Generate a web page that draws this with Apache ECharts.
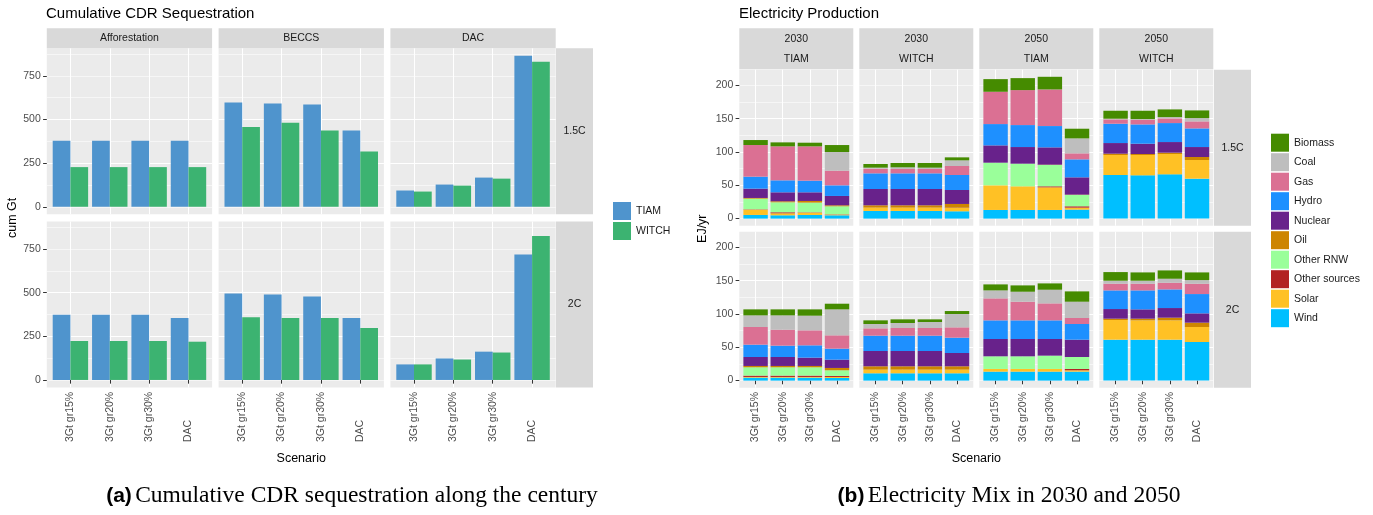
<!DOCTYPE html>
<html><head><meta charset="utf-8">
<script src="https://cdn.jsdelivr.net/npm/echarts@6/dist/echarts.min.js"></script>
<style>html,body{margin:0;padding:0;background:#fff}#c{width:1373px;height:515px}</style>
</head><body><div id="c"></div>
<script>
// ================= DATA =================
const scenarios = ['3Gt gr15%', '3Gt gr20%', '3Gt gr30%', 'DAC'];
const cdrTechs = ['Afforestation', 'BECCS', 'DAC'];
const targets = ['1.5C', '2C'];
const models = ['TIAM', 'WITCH'];

// (a) Cumulative CDR (Gt): rows = [Afforestation, BECCS, DAC], cols = scenarios
const tiam_15C  = [[378, 378, 378, 378], [597, 591, 585, 436], [93, 127, 167, 864]];
const witch_15C = [[227, 227, 227, 227], [456, 481, 437, 316], [87, 121, 161, 830]];
const tiam_2C   = [[374, 374, 374, 355], [495, 489, 478, 355], [89, 123, 162, 718]];
const witch_2C  = [[223, 223, 223, 219], [359, 355, 355, 297], [89, 117, 157, 824]];

// (b) Electricity production (EJ/yr)
const mixYears  = ['2030', '2030', '2050', '2050'];
const mixModels = ['TIAM', 'WITCH', 'TIAM', 'WITCH'];
const sources = ['Biomass', 'Coal', 'Gas', 'Hydro', 'Nuclear', 'Oil', 'Other RNW', 'Other sources', 'Solar', 'Wind'];
// each array: [2030 TIAM x4 scen, 2030 WITCH x4, 2050 TIAM x4, 2050 WITCH x4]
const wind_15C     = [5.5, 5, 5.5, 5,   11.5, 11.5, 11.5, 11,  13, 13, 13, 13.5,   65.5, 65, 66.5, 60];
const solar_15C    = [8, 3, 3.5, 1,     5, 5, 5, 5,            37, 35.5, 34, 3,    30, 30.5, 30.5, 28];
const otherSrc_15C = [0.5, 1.5, 0.5, 0.5, 0, 0, 0, 0.5,        0, 0, 1.5, 2,       0, 0, 0, 0];
const otherRnw_15C = [16, 15, 14.5, 12, 0, 0, 0, 0,            34, 34, 32, 17,     0, 0, 0, 0];
const oil_15C      = [1, 1.5, 2.5, 1.5, 3.5, 3.5, 3.5, 5.5,    0, 0, 0.5, 0.5,     2, 1.5, 2, 4.5];
const nuclear_15C  = [14, 13.5, 13, 14, 24.5, 24.5, 24.5, 21,  26, 25, 26, 26,     16, 15.5, 16, 15];
const hydro_15C    = [18, 18, 17.5, 16, 23.5, 23.5, 23.5, 22.5, 32, 33, 32, 27,    29, 29, 28.5, 28];
const gas_15C      = [47.5, 51, 51.5, 22, 7, 6.5, 6.5, 13.5,   48.5, 52.5, 55, 9,  6.5, 7, 7, 10.5];
const coal_15C     = [0, 0, 0, 28,      1.5, 2.5, 2, 8.5,      0, 0, 0, 22.5,      1, 1, 2, 5];
const biomass_15C  = [7.5, 6, 5.5, 10.5, 5.5, 6.5, 7, 4.5,     19, 18, 19, 14.5,   12, 12.5, 11.5, 11.5];

const wind_2C      = [4.5, 4.5, 4.5, 4, 11, 11, 11, 11,        13.5, 13.5, 13.5, 13.5, 61.5, 61.5, 61.5, 58];
const solar_2C     = [1, 1, 1, 1.5,     5.5, 5.5, 5.5, 5.5,    4, 4, 4, 2,         29.5, 29, 29, 22.5];
const otherSrc_2C  = [2, 2, 2, 1.5,     0, 0, 0, 0,            0, 0, 0, 2,         0, 0, 0, 0];
const otherRnw_2C  = [12.5, 12.5, 12.5, 8.5, 0, 0, 0, 0,       19, 19, 20, 18,     0, 0, 0, 0];
const oil_2C       = [2, 2, 2, 3.5,     5, 5, 5, 5,            0, 0, 0, 0,         2, 2.5, 4, 6.5];
const nuclear_2C   = [13.5, 13.5, 12.5, 12.5, 23, 23, 23, 20,  26, 26, 25, 26,     14.5, 14, 14.5, 14];
const hydro_2C     = [18.5, 17, 18.5, 16.5, 23, 23, 23, 23,    28, 28, 28, 23.5,   28, 28.5, 28, 29];
const gas_2C       = [26.5, 24, 22.5, 20, 11, 11.5, 11.5, 15.5, 33, 28, 25.5, 9,   10, 10, 10, 15.5];
const coal_2C      = [17.5, 21.5, 22, 39, 6.5, 7.5, 9, 20,     12, 15, 20.5, 24.5, 4.5, 4.5, 6, 5.5];
const biomass_2C   = [9, 9, 9.5, 8.5,   5.5, 5.5, 4, 4.5,      9, 9.5, 9.5, 15.5,  13, 12.5, 12.5, 11.5];

// ================= STYLE =================
const FONT = "'Liberation Sans', Arial, sans-serif";
const SERIF = "'Liberation Serif', 'Times New Roman', serif";
const modelColors = { TIAM: '#4F94CD', WITCH: '#3CB371' };
const sourceColors = {
  'Biomass': '#458B00', 'Coal': '#BEBEBE', 'Gas': '#DB7093', 'Hydro': '#1E90FF', 'Nuclear': '#68228B',
  'Oil': '#CD8500', 'Other RNW': '#9AFF9A', 'Other sources': '#B22222', 'Solar': '#FFC125', 'Wind': '#00BFFF'
};

const cdrData = [
  { TIAM: tiam_15C, WITCH: witch_15C },
  { TIAM: tiam_2C, WITCH: witch_2C }
];
const mixData = [
  { 'Biomass': biomass_15C, 'Coal': coal_15C, 'Gas': gas_15C, 'Hydro': hydro_15C, 'Nuclear': nuclear_15C,
    'Oil': oil_15C, 'Other RNW': otherRnw_15C, 'Other sources': otherSrc_15C, 'Solar': solar_15C, 'Wind': wind_15C },
  { 'Biomass': biomass_2C, 'Coal': coal_2C, 'Gas': gas_2C, 'Hydro': hydro_2C, 'Nuclear': nuclear_2C,
    'Oil': oil_2C, 'Other RNW': otherRnw_2C, 'Other sources': otherSrc_2C, 'Solar': solar_2C, 'Wind': wind_2C }
];

// ================= BUILD =================
const grid = [], xAxis = [], yAxis = [], series = [], graphic = [];

function addPanel(left, top, w, h, yMin, yMax, major, minor, showY, showX) {
  const step = w / 4.2;
  const bg = grid.length;
  grid.push({ left, top, width: w, height: h, show: true, backgroundColor: '#EBEBEB', borderWidth: 0 });
  xAxis.push({ gridIndex: bg, type: 'value', position: 'bottom', min: 0.4, max: 4.6, minInterval: 1, maxInterval: 1,
    axisLabel: { show: false }, axisTick: { show: false }, axisLine: { show: false },
    splitLine: { show: true, showMinLine: false, showMaxLine: false, lineStyle: { color: '#FFFFFF', width: 1.1 } } });
  yAxis.push({ gridIndex: bg, type: 'value', position: 'left', offset: 0, min: yMin, max: yMax, minInterval: minor, maxInterval: minor, splitNumber: 8,
    axisLabel: { show: false }, axisTick: { show: false }, axisLine: { show: false },
    splitLine: { show: true, showMinLine: false, showMaxLine: false, lineStyle: { color: '#FFFFFF', width: 0.55 } } });
  const majorVals = [];
  for (let v = 0; v <= yMax; v += major) majorVals.push(v);
  yAxis.push({ gridIndex: bg, type: 'value', position: 'left', offset: 0, min: yMin, max: yMax, minInterval: major, maxInterval: major, splitNumber: 4,
    axisLabel: { show: showY, customValues: majorVals, margin: 6, color: '#4D4D4D', fontSize: 10.5, fontFamily: FONT,
      formatter: v => (v >= 0 && Math.abs(v / major - Math.round(v / major)) < 1e-6) ? String(Math.round(v)) : '' },
    axisTick: { show: showY, customValues: majorVals, length: 3.7, lineStyle: { color: '#333333', width: 1 } },
    axisLine: { show: false },
    splitLine: { show: true, showMinLine: false, showMaxLine: false, lineStyle: { color: '#FFFFFF', width: 1.1 } } });
  const bi = grid.length;
  grid.push({ left: left + 0.1 * step, top, width: 4 * step, height: h, show: false });
  xAxis.push({ gridIndex: bi, type: 'category', position: 'bottom', data: scenarios, axisLine: { show: false }, splitLine: { show: false },
    axisTick: { show: showX, alignWithLabel: true, length: 3.7, lineStyle: { color: '#333333', width: 1 } },
    axisLabel: { show: showX, interval: 0, rotate: 90, align: 'left', verticalAlign: 'middle', margin: 54.5,
      color: '#4D4D4D', fontSize: 10.5, fontFamily: FONT } });
  yAxis.push({ gridIndex: bi, type: 'value', position: 'left', min: yMin, max: yMax, show: false });
  return { xi: xAxis.length - 1, yi: yAxis.length - 1 };
}

function stripRect(x, y, w, h) {
  graphic.push({ type: 'rect', shape: { x, y, width: w, height: h }, style: { fill: '#D9D9D9' }, silent: true });
}
function txt(text, x, y, size, color, rot) {
  graphic.push({ type: 'text', x, y, rotation: rot || 0, silent: true,
    style: { text, align: 'center', verticalAlign: 'middle', fontSize: size, fontFamily: FONT, fill: color } });
}

// ---- (a) layout
const aLefts = [46.8, 218.6, 390.4], aW = 165.3;
const aTops = [48.3, 221.5], aH = 166;
let aMax = 0;
cdrData.forEach(d => models.forEach(m => d[m].forEach(arr => arr.forEach(v => { aMax = Math.max(aMax, v); }))));
const aMin = -0.05 * aMax, aTop = 1.05 * aMax;

targets.forEach((t, r) => {
  cdrTechs.forEach((tech, c) => {
    const p = addPanel(aLefts[c], aTops[r], aW, aH, aMin, aTop, 250, 125, c === 0, r === 1);
    models.forEach(m => {
      series.push({ name: m, type: 'bar', xAxisIndex: p.xi, yAxisIndex: p.yi, data: cdrData[r][m][c],
        itemStyle: { color: modelColors[m] }, barGap: '0%', barCategoryGap: '10%' });
    });
  });
  stripRect(aLefts[2] + aW + 0.3, aTops[r], 37, aH);
  txt(t, aLefts[2] + aW + 0.3 + 18.5, aTops[r] + aH / 2, 10.5, '#1A1A1A');
});
cdrTechs.forEach((tech, c) => {
  stripRect(aLefts[c], 28.3, aW, 20);
  txt(tech, aLefts[c] + aW / 2, 38.5, 10.5, '#1A1A1A');
});

// ---- (b) layout
const bLefts = [739.3, 859.3, 979.3, 1099.3], bW = 114;
const bTops = [69.7, 231.7], bH = 156;
let bMax = 0;
mixData.forEach(d => { for (let i = 0; i < 16; i++) { let s = 0; sources.forEach(k => { s += d[k][i]; }); bMax = Math.max(bMax, s); } });
const bMin = -0.05 * bMax, bTop = 1.05 * bMax;
const stackOrder = sources.slice().reverse(); // Wind at bottom

targets.forEach((t, r) => {
  for (let c = 0; c < 4; c++) {
    const p = addPanel(bLefts[c], bTops[r], bW, bH, bMin, bTop, 50, 25, c === 0, r === 1);
    stackOrder.forEach(s => {
      series.push({ name: s, type: 'bar', stack: 'b' + r + '_' + c, xAxisIndex: p.xi, yAxisIndex: p.yi,
        data: mixData[r][s].slice(4 * c, 4 * c + 4), itemStyle: { color: sourceColors[s] }, barCategoryGap: '10%' });
    });
  }
  stripRect(1214, bTops[r], 37, bH);
  txt(t, 1214 + 18.5, bTops[r] + bH / 2, 10.5, '#1A1A1A');
});
for (let c = 0; c < 4; c++) {
  stripRect(bLefts[c], 28.3, bW, 41);
  txt(mixYears[c], bLefts[c] + bW / 2, 39.5, 10.5, '#1A1A1A');
  txt(mixModels[c], bLefts[c] + bW / 2, 59.5, 10.5, '#1A1A1A');
}

// axis titles
txt('Scenario', (aLefts[0] + aLefts[2] + aW) / 2, 458.5, 12.5, '#000');
txt('Scenario', (bLefts[0] + bLefts[3] + bW) / 2, 458.5, 12.5, '#000');
txt('cum Gt', 13, (aTops[0] + aTops[1] + aH) / 2, 12.5, '#000', Math.PI / 2);
txt('EJ/yr', 703, (bTops[0] + bTops[1] + bH) / 2, 12.5, '#000', Math.PI / 2);

// captions
const capRich = { b: { fontFamily: FONT, fontWeight: 'bold', fontSize: 21, fill: '#000' },
                  t: { fontFamily: SERIF, fontSize: 23.5, fill: '#000' } };
graphic.push({ type: 'text', x: 352, y: 496, silent: true,
  style: { text: '{b|(a)} {t|Cumulative CDR sequestration along the century}', align: 'center', verticalAlign: 'middle', rich: capRich } });
graphic.push({ type: 'text', x: 1009, y: 496, silent: true,
  style: { text: '{b|(b)} {t|Electricity Mix in 2030 and 2050}', align: 'center', verticalAlign: 'middle', rich: capRich } });

const legendText = { fontSize: 10.5, color: '#1A1A1A', fontFamily: FONT };
const option = {
  animation: false,
  title: [
    { text: 'Cumulative CDR Sequestration', left: 46, top: 6, padding: 0,
      textStyle: { fontSize: 15, fontWeight: 'normal', color: '#000', fontFamily: FONT } },
    { text: 'Electricity Production', left: 739, top: 6, padding: 0,
      textStyle: { fontSize: 15, fontWeight: 'normal', color: '#000', fontFamily: FONT } }
  ],
  legend: [
    { data: models, orient: 'vertical', left: 613, top: 202, itemWidth: 18, itemHeight: 18, itemGap: 2, padding: 0,
      icon: 'rect', selectedMode: false, textStyle: legendText },
    { data: sources, orient: 'vertical', left: 1271, top: 133.7, itemWidth: 18, itemHeight: 18, itemGap: 1.5, padding: 0,
      icon: 'rect', selectedMode: false, textStyle: legendText }
  ],
  grid, xAxis, yAxis, series, graphic
};
echarts.init(document.getElementById('c'), null, { renderer: 'canvas' }).setOption(option);
</script>
</body></html>
